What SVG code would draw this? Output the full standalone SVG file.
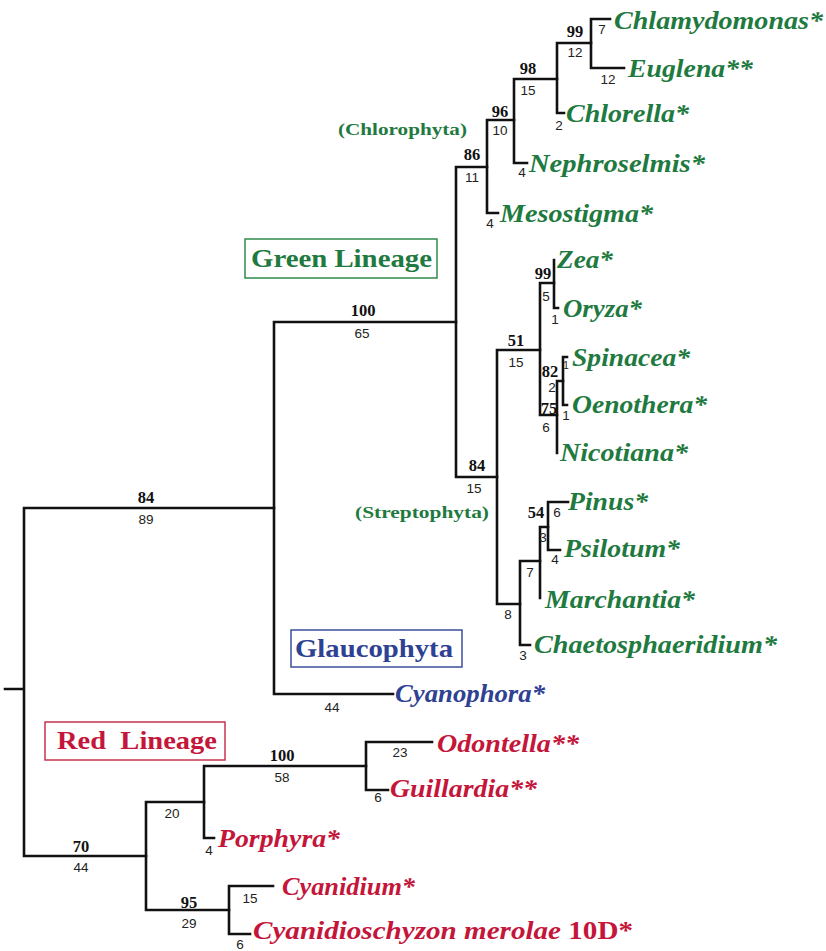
<svg xmlns="http://www.w3.org/2000/svg" width="826" height="951" viewBox="0 0 826 951">
<style>
.br{fill:none;stroke:#111;stroke-width:2.6;stroke-linecap:square}
.tx{font-family:'Liberation Serif','Times New Roman',Times,serif;font-weight:700;font-style:italic;font-size:25.5px}
.g{fill:#1f7a3f}.b{fill:#2e4192}.r{fill:#c4163a}
.bs{font-family:'Liberation Serif','Times New Roman',Times,serif;font-weight:700;font-size:16.5px;fill:#111;text-anchor:middle}
.bl{font-family:'Liberation Sans',Arial,sans-serif;font-size:13.5px;fill:#222;text-anchor:middle}
.box{fill:#fff;stroke-width:1.5}
.lin{font-family:'Liberation Serif','Times New Roman',Times,serif;font-weight:700;font-size:26px}
.cl{font-family:'Liberation Serif','Times New Roman',Times,serif;font-weight:700;font-size:17px;fill:#1f7a3f}
</style>
<rect width="826" height="951" fill="#fff"/>
<g id="connectors" class="br">
<path d="M5,689H24M24,508V856M24,508H274M24,856H146"/>
<path d="M274,322V694M274,322H456M274,694H393"/>
<path d="M456,167V477M456,167H487M456,477H497"/>
<path d="M487,120V213M487,120H514M487,213H498"/>
<path d="M514,79V163M514,79H557M514,163H527"/>
<path d="M557,43V113M557,43H591M557,113H564"/>
<path d="M591,19V68M591,19H610M591,68H624"/>
<path d="M497,350V604M497,350H540M497,604H520"/>
<path d="M540,283V415M540,283H554M540,415H557"/>
<path d="M554,260V308M554,308H558"/>
<path d="M557,381V453M557,381H563"/>
<path d="M563,357V405M563,357H567M563,405H567"/>
<path d="M520,561V645M520,561H540M520,645H530"/>
<path d="M540,527V598M540,527H548"/>
<path d="M548,502V550M548,502H568M548,550H560"/>
<path d="M146,802V910M146,802H204M146,910H229"/>
<path d="M204,766V838M204,766H366M204,838H214"/>
<path d="M366,742V790M366,742H432M366,790H388"/>
<path d="M229,886V934M229,886H273M229,934H250"/>
</g>
<g id="support">
<text class="bs" x="575" y="37">99</text>
<text class="bs" x="528" y="74">98</text>
<text class="bs" x="500" y="117">96</text>
<text class="bs" x="472" y="160">86</text>
<text class="bs" x="363" y="316">100</text>
<text class="bs" x="146" y="503">84</text>
<text class="bs" x="477" y="471">84</text>
<text class="bs" x="516" y="346">51</text>
<text class="bs" x="543" y="279">99</text>
<text class="bs" x="550" y="377">82</text>
<text class="bs" x="549" y="414">75</text>
<text class="bs" x="536" y="518">54</text>
<text class="bs" x="282" y="761">100</text>
<text class="bs" x="81" y="852">70</text>
<text class="bs" x="189" y="908">95</text>
</g>
<g id="lengths">
<text class="bl" x="602" y="34">7</text>
<text class="bl" x="575" y="57">12</text>
<text class="bl" x="608" y="84">12</text>
<text class="bl" x="528" y="95">15</text>
<text class="bl" x="559" y="130">2</text>
<text class="bl" x="500" y="135">10</text>
<text class="bl" x="522" y="177">4</text>
<text class="bl" x="472" y="182">11</text>
<text class="bl" x="490" y="228">4</text>
<text class="bl" x="362" y="338">65</text>
<text class="bl" x="146" y="524">89</text>
<text class="bl" x="474" y="493">15</text>
<text class="bl" x="516" y="367">15</text>
<text class="bl" x="546" y="301">5</text>
<text class="bl" x="555" y="324">1</text>
<text class="bl" x="552" y="392">2</text>
<text class="bl" x="566" y="369" style="font-size:10px">1</text>
<text class="bl" x="566" y="420">1</text>
<text class="bl" x="546" y="432">6</text>
<text class="bl" x="508" y="619">8</text>
<text class="bl" x="523" y="660">3</text>
<text class="bl" x="530" y="577">7</text>
<text class="bl" x="543" y="542">3</text>
<text class="bl" x="557" y="517">6</text>
<text class="bl" x="555" y="564">4</text>
<text class="bl" x="332" y="712">44</text>
<text class="bl" x="400" y="757">23</text>
<text class="bl" x="378" y="802">6</text>
<text class="bl" x="282" y="782">58</text>
<text class="bl" x="172" y="818">20</text>
<text class="bl" x="209" y="855">4</text>
<text class="bl" x="81" y="872">44</text>
<text class="bl" x="189" y="928">29</text>
<text class="bl" x="250" y="903">15</text>
<text class="bl" x="240" y="949">6</text>
</g>
<g id="boxes">
<g id="green-lineage"><rect class="box" x="245" y="239" width="192" height="39" stroke="#2f8a4a"/><text class="lin g" x="251" y="267" textLength="181" lengthAdjust="spacingAndGlyphs">Green Lineage</text></g>
<g id="glaucophyta"><rect class="box" x="291" y="630" width="171" height="37" stroke="#3b4e9e"/><text class="lin b" x="295" y="657" textLength="158" lengthAdjust="spacingAndGlyphs">Glaucophyta</text></g>
<g id="red-lineage"><rect class="box" x="45" y="722" width="180" height="38" stroke="#c8344f"/><text class="lin r" x="57" y="749" textLength="160" lengthAdjust="spacingAndGlyphs" xml:space="preserve">Red  Lineage</text></g>
<g id="chlorophyta"><text class="cl" x="338" y="135" textLength="129" lengthAdjust="spacingAndGlyphs">(Chlorophyta)</text></g>
<g id="streptophyta"><text class="cl" x="355" y="518" textLength="134" lengthAdjust="spacingAndGlyphs">(Streptophyta)</text></g>
</g>
<g id="taxa">
<g id="chlamydomonas"><text class="tx g" x="614" y="29" textLength="209" lengthAdjust="spacingAndGlyphs">Chlamydomonas*</text></g>
<g id="euglena"><text class="tx g" x="628" y="77" textLength="125" lengthAdjust="spacingAndGlyphs">Euglena**</text></g>
<g id="chlorella"><text class="tx g" x="566" y="122" textLength="123" lengthAdjust="spacingAndGlyphs">Chlorella*</text></g>
<g id="nephroselmis"><text class="tx g" x="529" y="172" textLength="176" lengthAdjust="spacingAndGlyphs">Nephroselmis*</text></g>
<g id="mesostigma"><text class="tx g" x="500" y="222" textLength="153" lengthAdjust="spacingAndGlyphs">Mesostigma*</text></g>
<g id="zea"><text class="tx g" x="557" y="268" textLength="56" lengthAdjust="spacingAndGlyphs">Zea*</text></g>
<g id="oryza"><text class="tx g" x="563" y="317" textLength="79" lengthAdjust="spacingAndGlyphs">Oryza*</text></g>
<g id="spinacea"><text class="tx g" x="572" y="366" textLength="118" lengthAdjust="spacingAndGlyphs">Spinacea*</text></g>
<g id="oenothera"><text class="tx g" x="572" y="413" textLength="135" lengthAdjust="spacingAndGlyphs">Oenothera*</text></g>
<g id="nicotiana"><text class="tx g" x="560" y="461" textLength="128" lengthAdjust="spacingAndGlyphs">Nicotiana*</text></g>
<g id="pinus"><text class="tx g" x="568" y="510" textLength="80" lengthAdjust="spacingAndGlyphs">Pinus*</text></g>
<g id="psilotum"><text class="tx g" x="564" y="557" textLength="116" lengthAdjust="spacingAndGlyphs">Psilotum*</text></g>
<g id="marchantia"><text class="tx g" x="545" y="608" textLength="150" lengthAdjust="spacingAndGlyphs">Marchantia*</text></g>
<g id="chaetosphaeridium"><text class="tx g" x="534" y="653" textLength="243" lengthAdjust="spacingAndGlyphs">Chaetosphaeridium*</text></g>
<g id="cyanophora"><text class="tx b" x="395" y="702" textLength="150" lengthAdjust="spacingAndGlyphs">Cyanophora*</text></g>
<g id="odontella"><text class="tx r" x="437" y="752" textLength="142" lengthAdjust="spacingAndGlyphs">Odontella**</text></g>
<g id="guillardia"><text class="tx r" x="390" y="797" textLength="147" lengthAdjust="spacingAndGlyphs">Guillardia**</text></g>
<g id="porphyra"><text class="tx r" x="218" y="847" textLength="122" lengthAdjust="spacingAndGlyphs">Porphyra*</text></g>
<g id="cyanidium"><text class="tx r" x="282" y="895" textLength="133" lengthAdjust="spacingAndGlyphs">Cyanidium*</text></g>
<g id="cyanidioschyzon"><text class="tx r" x="253" y="939" textLength="380" lengthAdjust="spacingAndGlyphs">Cyanidioschyzon merolae <tspan style="font-style:normal">10D*</tspan></text></g>
</g>
</svg>
